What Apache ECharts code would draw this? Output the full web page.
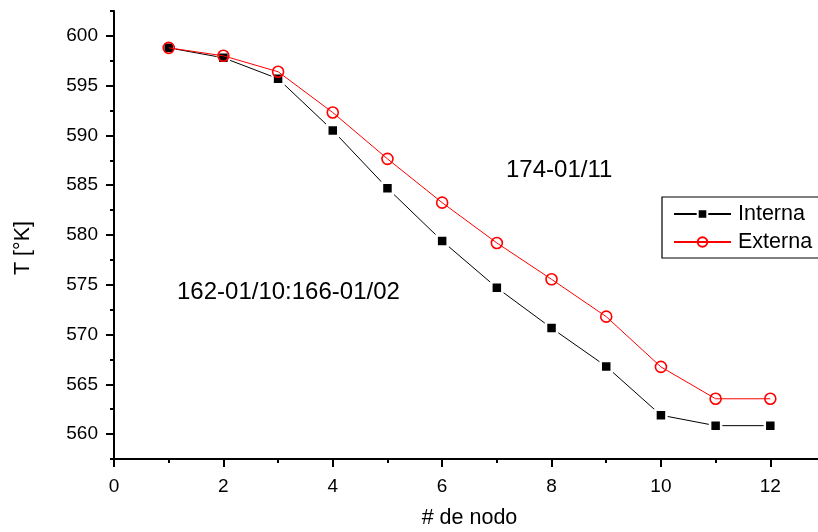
<!DOCTYPE html>
<html>
<head>
<meta charset="utf-8">
<script src="https://cdn.jsdelivr.net/npm/echarts@6/dist/echarts.min.js"></script>
<style>
html,body{margin:0;padding:0;background:#fff;}
#c{width:818px;height:532px;}
</style>
</head>
<body>
<div id="c"></div>
<script>
const nodes = [1,2,3,4,5,6,7,8,9,10,11,12];
const interna = [598.8,597.8,595.7,590.5,584.7,579.4,574.7,570.65,566.8,561.9,560.85,560.85];
const externa = [598.8,598.0,596.4,592.3,587.65,583.25,579.2,575.55,571.8,566.75,563.55,563.55];
const xTicks = [0,2,4,6,8,10,12];
const yTicks = [560,565,570,575,580,585,590,595,600];
const seriesNames = ['Interna','Externa'];
const annotations = ['174-01/11','162-01/10:166-01/02'];

const FONT = 'Liberation Sans, Arial, sans-serif';
const chart = echarts.init(document.getElementById('c'), null, {renderer:'canvas'});

const axisLineStyle = {color:'#000', width:2};
const option = {
  animation:false,
  backgroundColor:'#fff',
  grid:{left:114, top:11, width:711, height:448, containLabel:false, outerBoundsMode:'none'},
  xAxis:[
    {type:'value', min:0, max:13, position:'bottom',
     axisLine:{show:true, onZero:false, lineStyle:axisLineStyle},
     axisTick:{show:true, customValues:xTicks, length:8, lineStyle:{color:'#000', width:2}},
     axisLabel:{customValues:xTicks, color:'#000', fontSize:19, fontFamily:FONT, margin:18},
     splitLine:{show:false},
     name:'# de nodo', nameLocation:'middle', nameGap:48,
     nameTextStyle:{color:'#000', fontSize:21.5, fontFamily:FONT}},
    {type:'value', min:0, max:13, interval:1, position:'bottom',
     axisLine:{show:false, onZero:false},
     axisTick:{show:true, length:4, lineStyle:{color:'#000', width:2}},
     axisLabel:{show:false}, splitLine:{show:false}}
  ],
  yAxis:[
    {type:'value', min:557.5, max:602.5, position:'left',
     axisLine:{show:true, onZero:false, lineStyle:axisLineStyle},
     axisTick:{show:true, customValues:yTicks, length:8, lineStyle:{color:'#000', width:2}},
     axisLabel:{customValues:yTicks, color:'#000', fontSize:19, fontFamily:FONT, margin:16},
     splitLine:{show:false},
     name:'T [°K]', nameLocation:'middle', nameGap:80,
     nameTextStyle:{color:'#000', fontSize:21.5, fontFamily:FONT, padding:[0,26,0,0]}},
    {type:'value', min:557.5, max:602.5, interval:2.5, position:'left',
     axisLine:{show:false, onZero:false},
     axisTick:{show:true, length:4, lineStyle:{color:'#000', width:2}},
     axisLabel:{show:false}, splitLine:{show:false}}
  ],
  legend:{
    orient:'vertical', left:662, top:197,
    padding:[6,40,5,11], itemGap:6,
    itemWidth:57, itemHeight:12,
    borderColor:'#000', borderWidth:1.2,
    backgroundColor:'#fff',
    textStyle:{color:'#000', fontSize:21.5, fontFamily:FONT, lineHeight:22, padding:[0,0,0,2]},
    data:seriesNames
  },
  series:[
    {name:seriesNames[0], type:'line',
     data:nodes.map((n,i)=>[n, interna[i]]),
     symbol:'rect', symbolSize:11,
     itemStyle:{color:'#000', borderColor:'#fff', borderWidth:2.5},
     lineStyle:{color:'#000', width:1},
     z:2},
    {name:seriesNames[1], type:'line',
     data:nodes.map((n,i)=>[n, externa[i]]),
     symbol:'circle', symbolSize:11,
     itemStyle:{color:'rgba(255,255,255,0)', borderColor:'#ff0000', borderWidth:1.6},
     lineStyle:{color:'#ff0000', width:1},
     z:3}
  ],
  graphic:[
    {type:'text', left:506, top:158,
     style:{text:annotations[0], fill:'#000', fontSize:24, fontFamily:FONT}},
    {type:'text', left:177, top:280,
     style:{text:annotations[1], fill:'#000', fontSize:24, fontFamily:FONT}}
  ]
};
chart.setOption(option);
</script>
</body>
</html>
